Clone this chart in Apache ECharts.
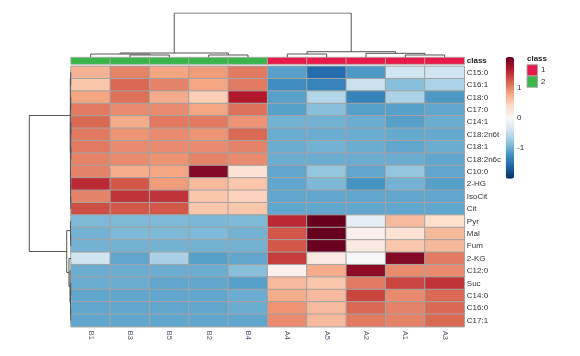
<!DOCTYPE html>
<html><head><meta charset="utf-8">
<script src="https://cdn.jsdelivr.net/npm/echarts@6/dist/echarts.min.js"></script>
<style>html,body{margin:0;padding:0;background:#fff}#c{width:580px;height:356px}</style>
</head><body><div id="c"></div>
<script>
const columns = ['B1','B3','B5','B2','B4','A4','A5','A2','A1','A3'];
const classes = [2,2,2,2,2,1,1,1,1,1];
const rows = ['C15:0','C16:1','C18:0','C17:0','C14:1','C18:2n6t','C18:1','C18:2n6c','C10:0','2-HG','IsoCit','Cit','Pyr','Mal','Fum','2-KG','C12:0','Suc','C14:0','C16:0','C17:1'];
// one list per row, in column order B1,B3,B5,B2,B4,A4,A5,A2,A1,A3
const values = [
  [0.7, 1.0, 0.8, 0.85, 1.05, -1.1, -1.55, -1.15, -0.4, -0.4],
  [0.55, 1.15, 1.0, 0.8, 1.05, -1.25, -1.35, -0.45, -0.85, -0.65],
  [0.8, 1.1, 0.75, 0.5, 1.6, -1.1, -0.6, -1.35, -0.65, -1.15],
  [1.05, 0.95, 0.95, 0.8, 1.1, -1.1, -0.85, -1.1, -1.1, -1.05],
  [1.15, 0.75, 1.05, 1.05, 0.9, -0.95, -0.95, -1.0, -1.1, -1.0],
  [1.05, 0.9, 0.95, 0.9, 1.15, -1.0, -1.0, -1.0, -1.02, -1.02],
  [1.05, 0.95, 0.95, 0.95, 1.0, -1.0, -0.95, -1.0, -1.05, -1.0],
  [1.0, 0.95, 0.9, 1.0, 0.95, -1.0, -1.0, -1.0, -1.0, -1.05],
  [1.0, 0.75, 0.8, 1.85, 0.3, -1.05, -0.8, -1.05, -0.8, -1.05],
  [1.5, 1.25, 0.85, 0.65, 0.55, -1.05, -0.9, -1.2, -0.95, -1.1],
  [1.0, 1.45, 1.45, 0.55, 0.45, -1.05, -1.05, -1.05, -1.05, -1.05],
  [1.3, 1.25, 1.25, 0.55, 0.55, -1.05, -1.05, -1.05, -1.05, -1.05],
  [-0.9, -0.9, -0.9, -0.92, -0.9, 1.5, 2.0, -0.2, 0.65, 0.35],
  [-0.95, -0.9, -0.9, -0.9, -0.95, 1.25, 2.2, 0.1, 0.3, 0.65],
  [-0.95, -0.95, -0.95, -0.95, -0.95, 1.25, 2.0, 0.2, 0.55, 0.65],
  [-0.4, -1.05, -0.65, -1.1, -1.05, 1.4, 0.2, 0.0, 1.85, 1.05],
  [-1.0, -1.0, -1.0, -1.0, -0.85, 0.1, 0.75, 1.8, 0.95, 0.95],
  [-1.0, -1.0, -1.05, -1.05, -1.1, 0.65, 0.55, 1.05, 1.35, 1.45],
  [-1.05, -1.05, -1.05, -1.05, -1.0, 0.75, 0.65, 1.35, 0.95, 1.15],
  [-1.05, -1.05, -1.05, -1.05, -1.0, 0.9, 0.65, 1.15, 1.0, 1.15],
  [-1.05, -1.05, -1.05, -1.05, -1.05, 0.95, 0.65, 1.05, 1.0, 1.15]
];
const colorbarTicks = [-1, 0, 1];
const classLegend = ['1', '2'];
// dendrograms: [mergeHeight, left, right]
const colTree = [10, [0.97, [0.74, 'B1', [0.52, 'B3', 'B5']], [0.52, 'B2', 'B4']],
                     [1.26, [0.74, 'A4', 'A5'], [0.9, 'A2', [0.52, 'A1', 'A3']]]];
const rowTree = [10,
  [0.17,
    [0.08, 'C15:0', 'C16:1'],
    [0.14,
      [0.1, [0.06, 'C18:0', 'C17:0'], [0.07, [0.04, 'C14:1', 'C18:2n6t'], [0.03, 'C18:1', 'C18:2n6c']]],
      [0.12, 'C10:0', [0.08, '2-HG', [0.05, 'IsoCit', 'Cit']]]]],
  [1.03,
    [0.12, 'Pyr', [0.06, 'Mal', 'Fum']],
    [0.48, '2-KG', [0.24, 'C12:0', [0.12, [0.05, 'Suc', 'C14:0'], [0.06, 'C16:0', 'C17:1']]]]]];

const RED = '#e8194b', GREEN = '#3ab54a';
const RdBu = ['#053061','#2166ac','#4393c3','#92c5de','#d1e5f0','#f7f7f7','#fddbc7','#f4a582','#d6604d','#b2182b','#67001f'];

function walk(node, names, segs) {
  if (typeof node === 'string') return { pos: names.indexOf(node), h: 0 };
  const a = walk(node[1], names, segs), b = walk(node[2], names, segs), h = node[0];
  segs.push([[a.pos, a.h], [a.pos, h], [b.pos, h], [b.pos, b.h]]);
  return { pos: (a.pos + b.pos) / 2, h: h };
}
const colSegs = []; walk(colTree, columns, colSegs);
const rowSegs = []; walk(rowTree, rows, rowSegs);

const heatData = [];
rows.forEach((r, ri) => values[ri].forEach((v, ci) => heatData.push([ci, ri, v])));
const classData = classes.map((c, i) => [i, 0, c]);

const FONT = 'Liberation Sans, Arial, sans-serif';
const GL = 71, GW = 393.3;
const chart = echarts.init(document.getElementById('c'), null, { renderer: 'canvas' });
chart.setOption({
  animation: false,
  backgroundColor: '#fff',
  textStyle: { fontFamily: FONT },
  grid: [
    { left: GL, width: GW, top: 66.3, height: 260.4 },
    { left: GL, width: GW, top: 57.5, height: 6.6 },
    { left: GL, width: GW, top: 13, height: 44.3 },
    { left: 29.3, width: 41.7, top: 66.3, height: 260.4 },
    { left: 505.7, width: 8.3, top: 57, height: 121.7 }
  ],
  xAxis: [
    { type: 'category', gridIndex: 0, data: columns, axisLine: { show: false }, axisTick: { show: false },
      axisLabel: { rotate: -90, fontSize: 7.5, margin: 4, color: '#4a5570', fontFamily: FONT } },
    { type: 'category', gridIndex: 1, data: columns, show: false },
    { type: 'value', gridIndex: 2, min: -0.5, max: 9.5, show: false },
    { type: 'value', gridIndex: 3, min: 0, max: 10, inverse: true, show: false },
    { type: 'value', gridIndex: 4, min: 0, max: 1, show: false }
  ],
  yAxis: [
    { type: 'category', gridIndex: 0, data: rows, inverse: true, position: 'right', axisLine: { show: false }, axisTick: { show: false },
      axisLabel: { fontSize: 8, margin: 2.5, color: '#333', fontFamily: FONT } },
    { type: 'category', gridIndex: 1, data: ['class'], position: 'right', axisLine: { show: false }, axisTick: { show: false },
      axisLabel: { fontSize: 8, margin: 2.5, color: '#222', fontWeight: 'bold', fontFamily: FONT } },
    { type: 'value', gridIndex: 2, min: 0, max: 10, show: false },
    { type: 'value', gridIndex: 3, min: -0.5, max: 20.5, inverse: true, show: false },
    { type: 'value', gridIndex: 4, min: -2, max: 2, interval: 1, position: 'right', axisLine: { show: false }, axisTick: { show: false }, splitLine: { show: false },
      axisLabel: { fontSize: 8, margin: 3, color: '#333', fontFamily: FONT,
        formatter: v => colorbarTicks.indexOf(v) >= 0 ? String(v) : '' } }
  ],
  visualMap: [
    { type: 'continuous', seriesIndex: 0, min: -2, max: 2, inRange: { color: RdBu }, left: 505.7, top: 57,
      itemWidth: 8.3, itemHeight: 121.7, padding: 0, calculable: false, orient: 'vertical', show: true },
    { type: 'piecewise', seriesIndex: 1, show: false, pieces: [{ value: 1, color: RED }, { value: 2, color: GREEN }] }
  ],
  series: [
    { type: 'heatmap', xAxisIndex: 0, yAxisIndex: 0, data: heatData, silent: true,
      itemStyle: { borderColor: '#a3a3a3', borderWidth: 1 }, emphasis: { disabled: true } },
    { type: 'heatmap', xAxisIndex: 1, yAxisIndex: 1, data: classData, silent: true,
      itemStyle: { borderColor: '#b0b0b0', borderWidth: 0.8 }, emphasis: { disabled: true } },
    { type: 'lines', coordinateSystem: 'cartesian2d', xAxisIndex: 2, yAxisIndex: 2, polyline: true, silent: true,
      lineStyle: { color: '#555', width: 1, opacity: 1 }, data: colSegs.map(s => ({ coords: s })) },
    { type: 'lines', coordinateSystem: 'cartesian2d', xAxisIndex: 3, yAxisIndex: 3, polyline: true, silent: true,
      lineStyle: { color: '#555', width: 1, opacity: 1 }, data: rowSegs.map(s => ({ coords: s.map(p => [p[1], p[0]]) })) }
  ],
  graphic: [
    { type: 'text', left: 527, top: 55, style: { text: 'class', font: 'bold 8px ' + FONT, fill: '#222' } },
    { type: 'rect', shape: { x: 527, y: 64.7, width: 10.5, height: 11.3 }, style: { fill: RED, stroke: '#aaa', lineWidth: 1 } },
    { type: 'rect', shape: { x: 527, y: 76, width: 10.5, height: 11.3 }, style: { fill: GREEN, stroke: '#aaa', lineWidth: 1 } },
    { type: 'text', left: 541, top: 66, style: { text: classLegend[0], font: '8px ' + FONT, fill: '#333' } },
    { type: 'text', left: 541, top: 77.5, style: { text: classLegend[1], font: '8px ' + FONT, fill: '#333' } }
  ]
});
</script></body></html>
